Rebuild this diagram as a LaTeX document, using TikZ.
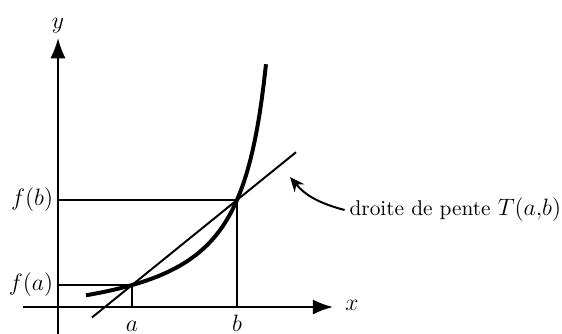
\documentclass[tikz,border=0pt]{standalone}
\usepackage{amsmath,amssymb}
\usepackage{tikz}
\usetikzlibrary{calc,arrows.meta}

\begin{document}
\begin{tikzpicture}[line width=1pt,
    axe/.style={-{Latex[length=3.6mm,width=2.7mm]}},
    courbe/.style={line width=2pt},
    etiq/.style={font=\fontsize{12.5}{15}\selectfont},
    fleche/.style={-{Stealth[length=2.6mm,width=2.2mm]}}]
    \useasboundingbox (-1.032,-0.480) rectangle (8.968,5.463);
    % points de la courbe (a,f(a)) et (b,f(b))
    \coordinate (O) at (0,0);
    \coordinate (A) at (1.317,0.391);
    \coordinate (B) at (3.185,1.904);
    % axes
    \coordinate (xg) at (-0.623,0);
    \coordinate (xd) at (4.893,0);
    \coordinate (yb) at (0,-0.480);
    \coordinate (yh) at (0,4.786);
    \draw[axe] (xg) -- (xd);
    \draw[axe] (yb) -- (yh);
    \node[etiq] (lx) at (5.23,0.03) {$x$};
    \node[etiq,above,inner sep=2pt] (ly) at (yh) {$y$};
    % courbe y=f(x)
    \draw[courbe] plot[domain=0.498:3.701,samples=80,variable=\t] (\t,{-0.432+2.372/(4.2-\t)});
    % droite passant par A et B
    \coordinate (S1) at ($(A)!-0.381!(B)$);
    \coordinate (S2) at ($(A)!1.562!(B)$);
    \draw (S1) -- (S2);
    % projections sur les axes
    \draw (A) -- (A -| O);
    \draw (A) -- (A |- O);
    \draw (B) -- (B -| O);
    \draw (B) -- (B |- O);
    \node[etiq,left,inner sep=2pt] (fa) at (A -| O) {$f(a)$};
    \node[etiq,left,inner sep=2pt] (fb) at (B -| O) {$f(b)$};
    \node[etiq,anchor=base] (la) at (1.317,-0.43) {$a$};
    \node[etiq,anchor=base] (lb) at (3.185,-0.43) {$b$};
    % legende avec fleche
    \node[right,inner sep=2pt,font=\fontsize{10.8}{13}\selectfont] (lbl) at (5.10,1.726)
        {droite de pente {\fontsize{12.5}{15}\selectfont$T(a{,}b)$}};
    \coordinate (pointe) at (4.128,2.313);
    \draw[fleche] (lbl.west) to[out=165,in=-50] (pointe);
\end{tikzpicture}
\end{document}
